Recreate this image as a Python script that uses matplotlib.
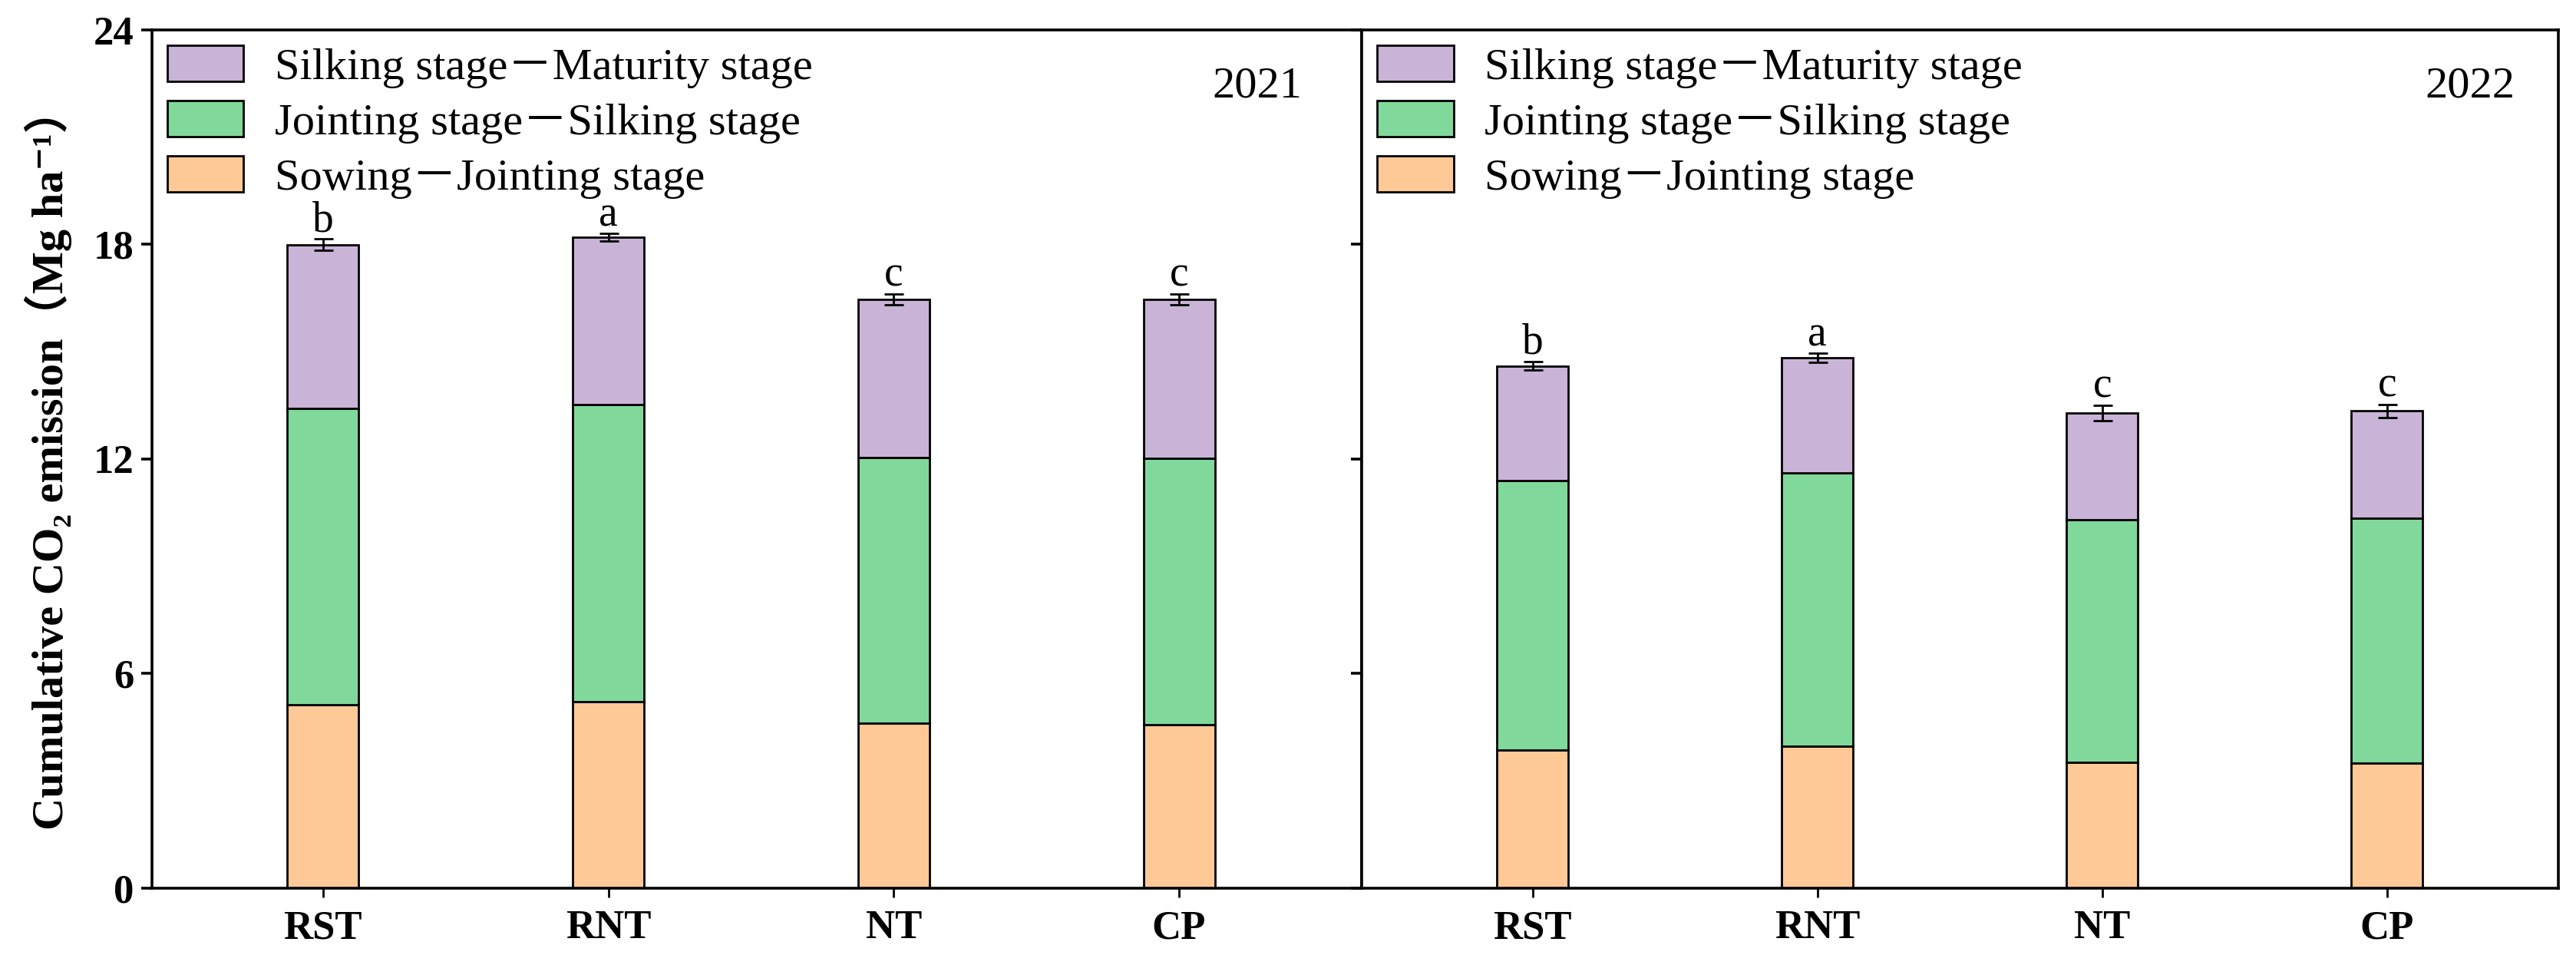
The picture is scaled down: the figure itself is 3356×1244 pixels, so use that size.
import matplotlib
matplotlib.use("Agg")
import matplotlib.pyplot as plt
import numpy as np

# datos (Mg ha-1)
tratamientos = ["RST", "RNT", "NT", "CP"]
etapas = ["Sowing－Jointing stage", "Jointing stage－Silking stage", "Silking stage－Maturity stage"]
colores = ["#FEC996", "#80D99B", "#C9B4D7"]

siembra_2021 = [5.13, 5.21, 4.61, 4.57]
encanado_2021 = [13.41, 13.53, 12.05, 12.02]   # acumulado hasta espigado
total_2021 = [17.99, 18.20, 16.46, 16.46]
error_2021 = [0.16, 0.10, 0.15, 0.15]
letras_2021 = ["b", "a", "c", "c"]

siembra_2022 = [3.86, 3.96, 3.51, 3.49]
encanado_2022 = [11.39, 11.62, 10.30, 10.34]
total_2022 = [14.60, 14.83, 13.29, 13.34]
error_2022 = [0.12, 0.12, 0.21, 0.19]
letras_2022 = ["b", "a", "c", "c"]

plt.rcParams['font.family'] = ['Liberation Serif', 'DejaVu Serif', 'Noto Sans CJK SC']

fig = plt.figure(figsize=(16.78, 6.22), dpi=200)
ax1 = fig.add_axes([0.0589, 0.0702, 0.4697, 0.8984])
ax2 = fig.add_axes([0.5286, 0.0702, 0.4644, 0.8984])


def dibujar(ax, siembra, encanado, total, error, letras, anio, xmax, xanio):
    x = np.arange(len(tratamientos))
    s = np.array(siembra)
    e = np.array(encanado)
    t = np.array(total)
    tramos = [s, e - s, t - e]
    base = np.zeros(len(x))
    for i in range(3):
        ax.bar(x, tramos[i], 0.25, bottom=base, color=colores[i],
               edgecolor='black', linewidth=1.0, label=etapas[i], zorder=2)
        base = base + tramos[i]
    ax.errorbar(x, t, yerr=error, fmt='none', ecolor='black', elinewidth=1.0,
                capsize=4.5, capthick=1.0, zorder=3)
    # letras de significancia
    for xi, ti, ei, le in zip(x, t, error, letras):
        ax.text(xi, ti + ei + 0.22, le, ha='center', va='baseline', fontsize=20)

    ax.set_xlim(-0.6, xmax)
    ax.set_ylim(0, 24)
    ax.set_yticks([0, 6, 12, 18, 24])
    ax.set_xticks(x)
    ax.set_xticklabels(tratamientos, fontsize=19, fontweight='bold')
    ax.tick_params(axis='y', direction='out', length=5, width=1.3, labelsize=19)
    ax.tick_params(axis='x', direction='out', length=4.3, width=1.0, pad=6)
    for lab in ax.get_yticklabels():
        lab.set_fontweight('bold')
    for sp in ax.spines.values():
        sp.set_linewidth(1.3)

    ax.text(xanio, 0.958, anio, transform=ax.transAxes,
            ha='right', va='top', fontsize=21)

    h, l = ax.get_legend_handles_labels()
    ax.legend(h[::-1], l[::-1], loc='upper left', bbox_to_anchor=(0.0, 1.0),
              frameon=False, fontsize=21, handlelength=1.7, handleheight=0.86,
              labelspacing=0.28, handletextpad=0.7, borderaxespad=0.0, borderpad=0.35)


dibujar(ax1, siembra_2021, encanado_2021, total_2021, error_2021, letras_2021, "2021", 3.64, 0.951)
dibujar(ax2, siembra_2022, encanado_2022, total_2022, error_2022, letras_2022, "2022", 3.6, 0.964)

ax2.set_yticklabels([])

ax1.set_ylabel("Cumulative CO₂ emission（Mg ha⁻¹）", fontsize=21, fontweight='bold')
ax1.yaxis.set_label_coords(-0.066, 0.5)

fig.savefig("out.png", dpi=200)
